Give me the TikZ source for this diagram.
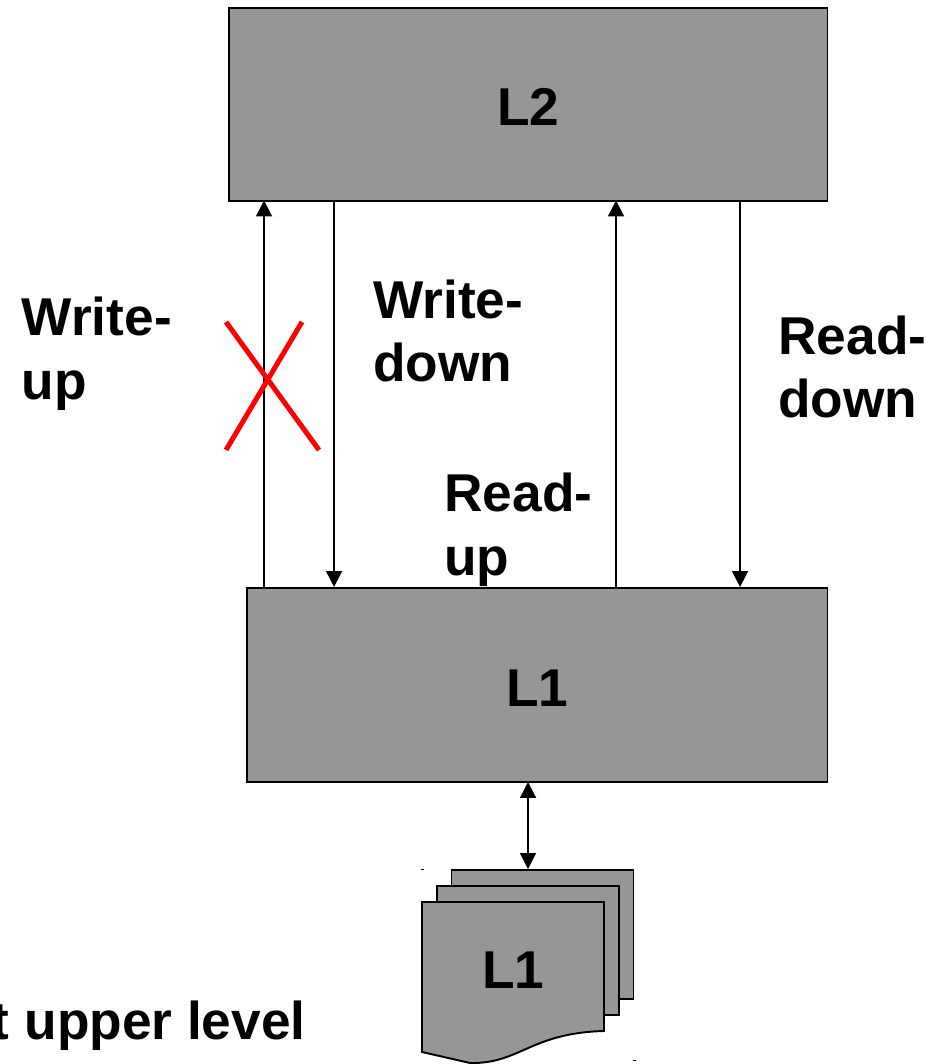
\documentclass[tikz,border=0pt]{standalone}
\usepackage{fontspec}
\setmainfont{Liberation Sans}
\usetikzlibrary{arrows.meta,calc,positioning}
\definecolor{levelgray}{HTML}{969696}

\begin{document}
\begin{tikzpicture}[
		level/.style={rectangle, draw=black, fill=levelgray, line width=1.1pt, inner sep=0pt, text height=0.85cm, text depth=0pt, font=\fontsize{30.3}{36.3}\selectfont\bfseries},
		page/.style={level, minimum width=3.64cm, minimum height=2.58cm},
		access/.style={-{Triangle[width=0.32cm,length=0.32cm]}, line width=0.95pt, draw=black},
		label/.style={inner sep=0pt, anchor=west, align=left, font=\fontsize{30.3}{36.3}\selectfont\bfseries},
		cross/.style={draw=red, line width=0.1cm}
		]
		\useasboundingbox (0,0) rectangle (18.88,21.28);
	
		% --- Levels ---
		\node[level, minimum width=11.97cm, minimum height=3.86cm] (L2) at (10.565, 19.19) {L2};
		\node[level, minimum width=11.61cm, minimum height=3.88cm] (L1) at (10.745, 7.58) {L1};
	
		% --- Pages ---
		\node[page] (pageC) at (10.85, 2.59) {};
		\node[page] (pageB) at (10.56, 2.27) {};
		\coordinate (pageTL) at (8.44, 3.24);
		\coordinate (pageTR) at (12.08, 3.24);
		\coordinate (pageBR) at (12.08, 0.66);
		\coordinate (pageBL) at (8.44, 0.24);
		\coordinate (pageLow) at (9.40, 0.02);
		\draw[line width=1.1pt, fill=levelgray] (pageTL) -- (pageTR) -- (pageBR)
			.. controls (10.6, 0.62) and (10.4, 0.0) .. (pageLow) -- (pageBL) -- cycle;
		\node[inner sep=0pt, font=\fontsize{30.3}{36.3}\selectfont\bfseries] (pageName) at (10.27, 1.88) {L1};
	
		% --- Access arrows ---
		\draw[access] ($(L1.north west)+(0.36,0)$) -- ($(L2.south west)+(0.72,0.03)$);
		\draw[access] ($(L2.south west)+(2.12,0)$) -- ($(L1.north west)+(1.76,0)$);
		\draw[access] ($(L1.north west)+(7.40,0)$) -- ($(L2.south west)+(7.76,0.03)$);
		\draw[access] ($(L2.south west)+(10.24,0)$) -- ($(L1.north west)+(9.88,0)$);
		\draw[access, {Triangle[width=0.32cm,length=0.32cm]}-{Triangle[width=0.32cm,length=0.32cm]}] ($(L1.south west)+(5.64,0.02)$) -- ($(pageC.north)+(-0.29,0)$);
	
		% --- Labels ---
		\node[label] (writeUp) at (0.43, 14.2) {Write-\\up};
		\node[label] (writeDown) at (7.46, 14.66) {Write-\\down};
		\node[label] (readUp) at (8.88, 10.68) {Read-\\up};
		\node[label] (readDown) at (15.56, 13.94) {Read-\\down};
		\node[inner sep=0pt, anchor=base east, font=\fontsize{30.3}{36.3}\selectfont\bfseries] (upperLevel) at (6.12, 0.5) {t upper level};
	
		% --- Red cross ---
		\draw[cross] (4.52, 14.84) -- (6.38, 12.28);
		\draw[cross] (6.04, 14.84) -- (4.52, 12.28);
	
		% Small marks
		\fill (8.42, 3.87) rectangle (8.48, 3.89);
		\fill (12.66, 0.05) rectangle (12.72, 0.07);
	
	\end{tikzpicture}
\end{document}
